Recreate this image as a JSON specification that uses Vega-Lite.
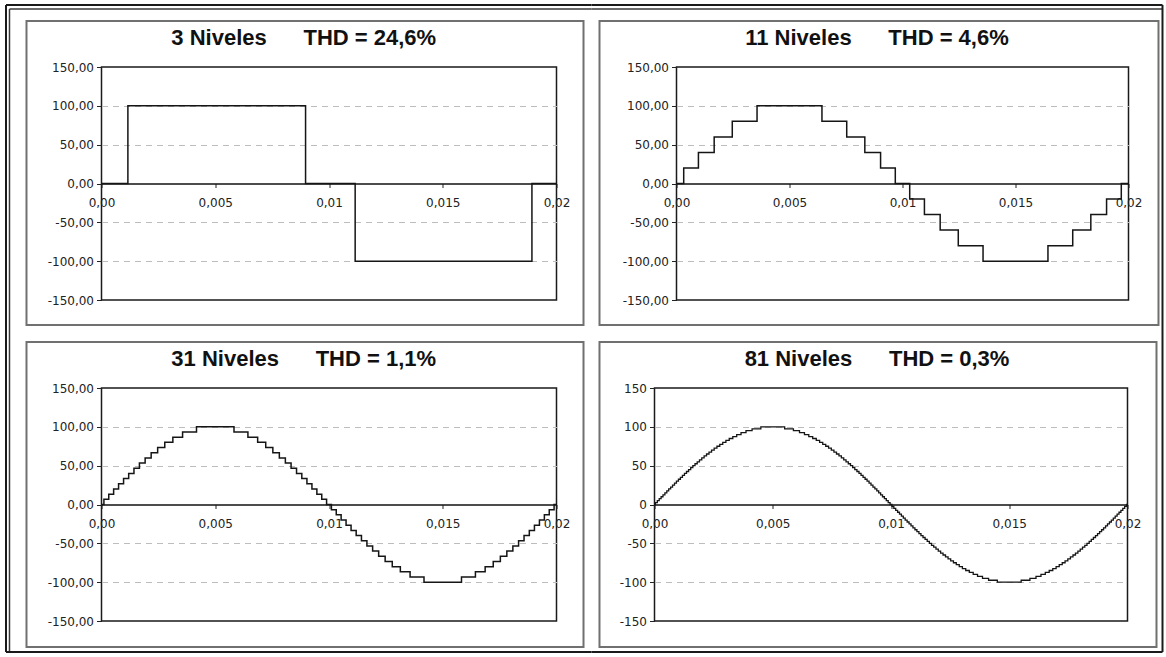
{
"$schema": "https://vega.github.io/schema/vega-lite/v6.json",
"background": "white",
"padding": {"left": 3.5, "top": 3, "right": 0, "bottom": 0},
"spacing": -4,
"datasets": {
"one": [{}],
"p3": [{"t":0,"v":0},{"t":0.00116,"v":100},{"t":0.00897,"v":0},{"t":0.01115,"v":-100},{"t":0.01892,"v":0},{"t":0.02,"v":0}],
"p11": [{"t":0,"v":0},{"t":0.000319,"v":20},{"t":0.00097,"v":40},{"t":0.001667,"v":60},{"t":0.002468,"v":80},{"t":0.003564,"v":100},{"t":0.006436,"v":80},{"t":0.007532,"v":60},{"t":0.008333,"v":40},{"t":0.00903,"v":20},{"t":0.009681,"v":0},{"t":0.010319,"v":-20},{"t":0.01097,"v":-40},{"t":0.011667,"v":-60},{"t":0.012468,"v":-80},{"t":0.013564,"v":-100},{"t":0.016436,"v":-80},{"t":0.017532,"v":-60},{"t":0.018333,"v":-40},{"t":0.01903,"v":-20},{"t":0.019681,"v":0},{"t":0.02,"v":0}],
"p31": [{"t":0,"v":0},{"t":0.000106,"v":6.67},{"t":0.000319,"v":13.33},{"t":0.000533,"v":20},{"t":0.00075,"v":26.67},{"t":0.00097,"v":33.33},{"t":0.001195,"v":40},{"t":0.001427,"v":46.67},{"t":0.001667,"v":53.33},{"t":0.001918,"v":60},{"t":0.002183,"v":66.67},{"t":0.002468,"v":73.33},{"t":0.002781,"v":80},{"t":0.003136,"v":86.67},{"t":0.003564,"v":93.33},{"t":0.004176,"v":100},{"t":0.005824,"v":93.33},{"t":0.006436,"v":86.67},{"t":0.006864,"v":80},{"t":0.007219,"v":73.33},{"t":0.007532,"v":66.67},{"t":0.007817,"v":60},{"t":0.008082,"v":53.33},{"t":0.008333,"v":46.67},{"t":0.008573,"v":40},{"t":0.008805,"v":33.33},{"t":0.00903,"v":26.67},{"t":0.00925,"v":20},{"t":0.009467,"v":13.33},{"t":0.009681,"v":6.67},{"t":0.009894,"v":0},{"t":0.010106,"v":-6.67},{"t":0.010319,"v":-13.33},{"t":0.010533,"v":-20},{"t":0.01075,"v":-26.67},{"t":0.01097,"v":-33.33},{"t":0.011195,"v":-40},{"t":0.011427,"v":-46.67},{"t":0.011667,"v":-53.33},{"t":0.011918,"v":-60},{"t":0.012183,"v":-66.67},{"t":0.012468,"v":-73.33},{"t":0.012781,"v":-80},{"t":0.013136,"v":-86.67},{"t":0.013564,"v":-93.33},{"t":0.014176,"v":-100},{"t":0.015824,"v":-93.33},{"t":0.016436,"v":-86.67},{"t":0.016864,"v":-80},{"t":0.017219,"v":-73.33},{"t":0.017532,"v":-66.67},{"t":0.017817,"v":-60},{"t":0.018082,"v":-53.33},{"t":0.018333,"v":-46.67},{"t":0.018573,"v":-40},{"t":0.018805,"v":-33.33},{"t":0.01903,"v":-26.67},{"t":0.01925,"v":-20},{"t":0.019467,"v":-13.33},{"t":0.019681,"v":-6.67},{"t":0.019894,"v":0},{"t":0.02,"v":0}],
"p81": [{"t":0,"v":0},{"t":0.00004,"v":2.5},{"t":0.000119,"v":5},{"t":0.000199,"v":7.5},{"t":0.000279,"v":10},{"t":0.000359,"v":12.5},{"t":0.000439,"v":15},{"t":0.00052,"v":17.5},{"t":0.0006,"v":20},{"t":0.000682,"v":22.5},{"t":0.000763,"v":25},{"t":0.000846,"v":27.5},{"t":0.000928,"v":30},{"t":0.001012,"v":32.5},{"t":0.001096,"v":35},{"t":0.001181,"v":37.5},{"t":0.001267,"v":40},{"t":0.001353,"v":42.5},{"t":0.001441,"v":45},{"t":0.001531,"v":47.5},{"t":0.001621,"v":50},{"t":0.001713,"v":52.5},{"t":0.001806,"v":55},{"t":0.001902,"v":57.5},{"t":0.001999,"v":60},{"t":0.002098,"v":62.5},{"t":0.0022,"v":65},{"t":0.002305,"v":67.5},{"t":0.002413,"v":70},{"t":0.002524,"v":72.5},{"t":0.00264,"v":75},{"t":0.00276,"v":77.5},{"t":0.002886,"v":80},{"t":0.003019,"v":82.5},{"t":0.00316,"v":85},{"t":0.003311,"v":87.5},{"t":0.003476,"v":90},{"t":0.003659,"v":92.5},{"t":0.003869,"v":95},{"t":0.004126,"v":97.5},{"t":0.004496,"v":100},
{"t":0.005504,"v":97.5},{"t":0.005874,"v":95},{"t":0.006131,"v":92.5},{"t":0.006341,"v":90},{"t":0.006524,"v":87.5},{"t":0.006689,"v":85},{"t":0.00684,"v":82.5},{"t":0.006981,"v":80},{"t":0.007114,"v":77.5},{"t":0.00724,"v":75},{"t":0.00736,"v":72.5},{"t":0.007476,"v":70},{"t":0.007587,"v":67.5},{"t":0.007695,"v":65},{"t":0.0078,"v":62.5},{"t":0.007902,"v":60},{"t":0.008001,"v":57.5},{"t":0.008098,"v":55},{"t":0.008194,"v":52.5},{"t":0.008287,"v":50},{"t":0.008379,"v":47.5},{"t":0.008469,"v":45},{"t":0.008559,"v":42.5},{"t":0.008647,"v":40},{"t":0.008733,"v":37.5},{"t":0.008819,"v":35},{"t":0.008904,"v":32.5},{"t":0.008988,"v":30},{"t":0.009072,"v":27.5},{"t":0.009154,"v":25},{"t":0.009237,"v":22.5},{"t":0.009318,"v":20},{"t":0.0094,"v":17.5},{"t":0.00948,"v":15},{"t":0.009561,"v":12.5},{"t":0.009641,"v":10},{"t":0.009721,"v":7.5},{"t":0.009801,"v":5},{"t":0.009881,"v":2.5},{"t":0.00996,"v":0},
{"t":0.01004,"v":-2.5},{"t":0.010119,"v":-5},{"t":0.010199,"v":-7.5},{"t":0.010279,"v":-10},{"t":0.010359,"v":-12.5},{"t":0.010439,"v":-15},{"t":0.01052,"v":-17.5},{"t":0.0106,"v":-20},{"t":0.010682,"v":-22.5},{"t":0.010763,"v":-25},{"t":0.010846,"v":-27.5},{"t":0.010928,"v":-30},{"t":0.011012,"v":-32.5},{"t":0.011096,"v":-35},{"t":0.011181,"v":-37.5},{"t":0.011267,"v":-40},{"t":0.011353,"v":-42.5},{"t":0.011441,"v":-45},{"t":0.011531,"v":-47.5},{"t":0.011621,"v":-50},{"t":0.011713,"v":-52.5},{"t":0.011806,"v":-55},{"t":0.011902,"v":-57.5},{"t":0.011999,"v":-60},{"t":0.012098,"v":-62.5},{"t":0.0122,"v":-65},{"t":0.012305,"v":-67.5},{"t":0.012413,"v":-70},{"t":0.012524,"v":-72.5},{"t":0.01264,"v":-75},{"t":0.01276,"v":-77.5},{"t":0.012886,"v":-80},{"t":0.013019,"v":-82.5},{"t":0.01316,"v":-85},{"t":0.013311,"v":-87.5},{"t":0.013476,"v":-90},{"t":0.013659,"v":-92.5},{"t":0.013869,"v":-95},{"t":0.014126,"v":-97.5},{"t":0.014496,"v":-100},
{"t":0.015504,"v":-97.5},{"t":0.015874,"v":-95},{"t":0.016131,"v":-92.5},{"t":0.016341,"v":-90},{"t":0.016524,"v":-87.5},{"t":0.016689,"v":-85},{"t":0.01684,"v":-82.5},{"t":0.016981,"v":-80},{"t":0.017114,"v":-77.5},{"t":0.01724,"v":-75},{"t":0.01736,"v":-72.5},{"t":0.017476,"v":-70},{"t":0.017587,"v":-67.5},{"t":0.017695,"v":-65},{"t":0.0178,"v":-62.5},{"t":0.017902,"v":-60},{"t":0.018001,"v":-57.5},{"t":0.018098,"v":-55},{"t":0.018194,"v":-52.5},{"t":0.018287,"v":-50},{"t":0.018379,"v":-47.5},{"t":0.018469,"v":-45},{"t":0.018559,"v":-42.5},{"t":0.018647,"v":-40},{"t":0.018733,"v":-37.5},{"t":0.018819,"v":-35},{"t":0.018904,"v":-32.5},{"t":0.018988,"v":-30},{"t":0.019072,"v":-27.5},{"t":0.019154,"v":-25},{"t":0.019237,"v":-22.5},{"t":0.019318,"v":-20},{"t":0.0194,"v":-17.5},{"t":0.01948,"v":-15},{"t":0.019561,"v":-12.5},{"t":0.019641,"v":-10},{"t":0.019721,"v":-7.5},{"t":0.019801,"v":-5},{"t":0.019881,"v":-2.5},{"t":0.01996,"v":0},{"t":0.02,"v":0}]
},
"vconcat": [
{"hconcat": [
{"width": 455, "height": 233,
 "title": {"text": "3 Niveles\u00a0\u00a0\u00a0\u00a0\u00a0\u00a0THD = 24,6%", "offset": -45.7, "dx": 5},
 "layer": [
  {"data": {"name": "p3"}, "mark": {"type": "line", "interpolate": "step-after", "color": "#151515", "strokeWidth": 1.5},
   "encoding": {
    "x": {"field": "t", "type": "quantitative", "scale": {"domain": [0, 0.02], "nice": false, "zero": false}, "axis": {"title": null, "values": [0, 0.005, 0.01, 0.015, 0.02], "offset": -116.5, "labelExpr": "datum.value == 0 ? '0,00' : replace(toString(datum.value), '.', ',')"}},
    "y": {"field": "v", "type": "quantitative", "scale": {"domain": [-150, 150], "nice": false}, "axis": {"title": null, "tickCount": 10, "values": [-150, -100, -50, 0, 50, 100, 150], "gridOpacity": {"condition": {"test": "abs(datum.value) == 150 || datum.value == 0", "value": 0}, "value": 1}, "labelExpr": "(datum.value < 0 ? '-' : '') + replace(format(abs(datum.value), '.2f'), '.', ',')"}}
   }},
  {"data": {"name": "one"}, "mark": {"type": "rect", "fillOpacity": 0, "stroke": "#707070", "strokeWidth": 2},
   "encoding": {"x": {"datum": -0.003297, "type": "quantitative"}, "x2": {"datum": 0.021187}, "y": {"datum": 209.2, "type": "quantitative"}, "y2": {"datum": -182.2}}},
  {"data": {"name": "one"}, "mark": {"type": "rule", "color": "#1a1a1a", "strokeWidth": 2},
   "encoding": {"x": {"datum": -0.0041978, "type": "quantitative"}, "x2": {"datum": 0.021538}, "y": {"datum": 229.83, "type": "quantitative"}}},
  {"data": {"name": "one"}, "mark": {"type": "rule", "color": "#3a3a3a", "strokeWidth": 1.5},
   "encoding": {"x": {"datum": -0.004044, "type": "quantitative"}, "x2": {"datum": 0.021538}, "y": {"datum": 224.68, "type": "quantitative"}}},
  {"data": {"name": "one"}, "mark": {"type": "rule", "color": "#1a1a1a", "strokeWidth": 2},
   "encoding": {"x": {"datum": -0.0041978, "type": "quantitative"}, "y": {"datum": 229.83, "type": "quantitative"}, "y2": {"datum": -192.49}}},
  {"data": {"name": "one"}, "mark": {"type": "rule", "color": "#3a3a3a", "strokeWidth": 1.5},
   "encoding": {"x": {"datum": -0.004044, "type": "quantitative"}, "y": {"datum": 224.68, "type": "quantitative"}, "y2": {"datum": -192.49}}}
 ]},
{"width": 452, "height": 233,
 "title": {"text": "11 Niveles\u00a0\u00a0\u00a0\u00a0\u00a0\u00a0THD = 4,6%", "offset": -45.7},
 "layer": [
  {"data": {"name": "p11"}, "mark": {"type": "line", "interpolate": "step-after", "color": "#151515", "strokeWidth": 1.5},
   "encoding": {
    "x": {"field": "t", "type": "quantitative", "scale": {"domain": [0, 0.02], "nice": false, "zero": false}, "axis": {"title": null, "values": [0, 0.005, 0.01, 0.015, 0.02], "offset": -116.5, "labelExpr": "datum.value == 0 ? '0,00' : replace(toString(datum.value), '.', ',')"}},
    "y": {"field": "v", "type": "quantitative", "scale": {"domain": [-150, 150], "nice": false}, "axis": {"title": null, "tickCount": 10, "values": [-150, -100, -50, 0, 50, 100, 150], "gridOpacity": {"condition": {"test": "abs(datum.value) == 150 || datum.value == 0", "value": 0}, "value": 1}, "labelExpr": "(datum.value < 0 ? '-' : '') + replace(format(abs(datum.value), '.2f'), '.', ',')"}}
   }},
  {"data": {"name": "one"}, "mark": {"type": "rect", "fillOpacity": 0, "stroke": "#707070", "strokeWidth": 2},
   "encoding": {"x": {"datum": -0.003407, "type": "quantitative"}, "x2": {"datum": 0.021327}, "y": {"datum": 209.2, "type": "quantitative"}, "y2": {"datum": -182.2}}},
  {"data": {"name": "one"}, "mark": {"type": "rule", "color": "#1a1a1a", "strokeWidth": 2},
   "encoding": {"x": {"datum": -0.0037611, "type": "quantitative"}, "x2": {"datum": 0.021504}, "y": {"datum": 229.83, "type": "quantitative"}}},
  {"data": {"name": "one"}, "mark": {"type": "rule", "color": "#3a3a3a", "strokeWidth": 1.5},
   "encoding": {"x": {"datum": -0.0037611, "type": "quantitative"}, "x2": {"datum": 0.021504}, "y": {"datum": 224.68, "type": "quantitative"}}},
  {"data": {"name": "one"}, "mark": {"type": "rule", "color": "#1a1a1a", "strokeWidth": 2},
   "encoding": {"x": {"datum": 0.021504, "type": "quantitative"}, "y": {"datum": 229.83, "type": "quantitative"}, "y2": {"datum": -192.49}}}
 ]}
], "spacing": -4},
{"hconcat": [
{"width": 455, "height": 233,
 "title": {"text": "31 Niveles\u00a0\u00a0\u00a0\u00a0\u00a0\u00a0THD = 1,1%", "offset": -39.3, "dx": 5},
 "layer": [
  {"data": {"name": "p31"}, "mark": {"type": "line", "interpolate": "step-after", "color": "#151515", "strokeWidth": 1.5},
   "encoding": {
    "x": {"field": "t", "type": "quantitative", "scale": {"domain": [0, 0.02], "nice": false, "zero": false}, "axis": {"title": null, "values": [0, 0.005, 0.01, 0.015, 0.02], "offset": -116.5, "labelExpr": "datum.value == 0 ? '0,00' : replace(toString(datum.value), '.', ',')"}},
    "y": {"field": "v", "type": "quantitative", "scale": {"domain": [-150, 150], "nice": false}, "axis": {"title": null, "tickCount": 10, "values": [-150, -100, -50, 0, 50, 100, 150], "gridOpacity": {"condition": {"test": "abs(datum.value) == 150 || datum.value == 0", "value": 0}, "value": 1}, "labelExpr": "(datum.value < 0 ? '-' : '') + replace(format(abs(datum.value), '.2f'), '.', ',')"}}
   }},
  {"data": {"name": "one"}, "mark": {"type": "rect", "fillOpacity": 0, "stroke": "#707070", "strokeWidth": 2},
   "encoding": {"x": {"datum": -0.003297, "type": "quantitative"}, "x2": {"datum": 0.021187}, "y": {"datum": 209.2, "type": "quantitative"}, "y2": {"datum": -183.5}}},
  {"data": {"name": "one"}, "mark": {"type": "rule", "color": "#1a1a1a", "strokeWidth": 2},
   "encoding": {"x": {"datum": -0.0041978, "type": "quantitative"}, "y": {"datum": 220.82, "type": "quantitative"}, "y2": {"datum": -189.91}}},
  {"data": {"name": "one"}, "mark": {"type": "rule", "color": "#3a3a3a", "strokeWidth": 1.5},
   "encoding": {"x": {"datum": -0.004044, "type": "quantitative"}, "y": {"datum": 220.82, "type": "quantitative"}, "y2": {"datum": -189.91}}},
  {"data": {"name": "one"}, "mark": {"type": "rule", "color": "#1a1a1a", "strokeWidth": 2},
   "encoding": {"x": {"datum": -0.0041978, "type": "quantitative"}, "x2": {"datum": 0.021538}, "y": {"datum": -189.91, "type": "quantitative"}}}
 ]},
{"width": 473, "height": 233,
 "title": {"text": "81 Niveles\u00a0\u00a0\u00a0\u00a0\u00a0\u00a0THD = 0,3%", "offset": -39.3},
 "layer": [
  {"data": {"name": "p81"}, "mark": {"type": "line", "interpolate": "step-after", "color": "#151515", "strokeWidth": 1.3},
   "encoding": {
    "x": {"field": "t", "type": "quantitative", "scale": {"domain": [0, 0.02], "nice": false, "zero": false}, "axis": {"title": null, "values": [0, 0.005, 0.01, 0.015, 0.02], "offset": -116.5, "labelExpr": "datum.value == 0 ? '0,00' : replace(toString(datum.value), '.', ',')"}},
    "y": {"field": "v", "type": "quantitative", "scale": {"domain": [-150, 150], "nice": false}, "axis": {"title": null, "tickCount": 10, "values": [-150, -100, -50, 0, 50, 100, 150], "gridOpacity": {"condition": {"test": "abs(datum.value) == 150 || datum.value == 0", "value": 0}, "value": 1}, "labelExpr": "(datum.value < 0 ? '-' : '') + format(abs(datum.value), 'd')"}}
   }},
  {"data": {"name": "one"}, "mark": {"type": "rect", "fillOpacity": 0, "stroke": "#707070", "strokeWidth": 2},
   "encoding": {"x": {"datum": -0.002326, "type": "quantitative"}, "x2": {"datum": 0.021226}, "y": {"datum": 209.2, "type": "quantitative"}, "y2": {"datum": -183.5}}},
  {"data": {"name": "one"}, "mark": {"type": "rule", "color": "#1a1a1a", "strokeWidth": 2},
   "encoding": {"x": {"datum": -0.0026638, "type": "quantitative"}, "x2": {"datum": 0.02148}, "y": {"datum": -189.91, "type": "quantitative"}}},
  {"data": {"name": "one"}, "mark": {"type": "rule", "color": "#1a1a1a", "strokeWidth": 2},
   "encoding": {"x": {"datum": 0.02148, "type": "quantitative"}, "y": {"datum": 220.82, "type": "quantitative"}, "y2": {"datum": -189.91}}}
 ]}
], "spacing": -4}
],
"config": {
 "view": {"stroke": "#1a1a1a", "strokeWidth": 1.5},
 "title": {"font": "Liberation Sans", "fontSize": 22, "fontWeight": "bold", "color": "#111111", "anchor": "middle", "frame": "bounds"},
 "axis": {"labelFont": "DejaVu Sans", "labelFontSize": 12, "labelColor": "#222222", "tickColor": "#222222", "domainColor": "#111111", "labelOverlap": false},
 "axisY": {"domain": false, "grid": true, "gridDash": [6, 5], "gridColor": "#bdbdbd", "gridWidth": 1, "tickSize": 5, "labelPadding": 3, "labelOverlap": false},
 "axisX": {"grid": false, "domainWidth": 1.5, "tickSize": 4, "labelPadding": 10, "labelFlush": false, "labelOverlap": false}
}
}
